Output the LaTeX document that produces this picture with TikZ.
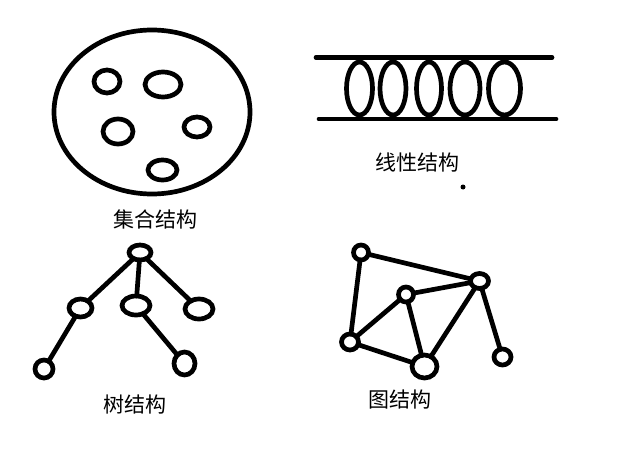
\documentclass[tikz,border=0pt]{standalone}
\usepackage{fontspec}
\newfontfamily\cjk{Noto Sans CJK SC}
\usetikzlibrary{shapes.geometric}
\begin{document}
\begin{tikzpicture}[x=1pt,y=-1pt,
  stroke/.style={line width=4.7pt},
  nd/.style={draw,stroke,ellipse,inner sep=0pt,outer sep=0pt},
  edge/.style={stroke,line cap=round},
  lbl/.style={font=\cjk\fontsize{21}{24}\selectfont,inner sep=0pt}]
\useasboundingbox[fill=white] (0,0) rectangle (628,452);
% set structure
\draw[stroke] (152,112) ellipse [x radius=98pt, y radius=82pt];
\draw[stroke] (107,81.5) ellipse [x radius=13pt, y radius=11.5pt];
\draw[stroke] (163,84.5) ellipse [x radius=18pt, y radius=12.5pt];
\draw[stroke] (118,131.5) ellipse [x radius=15pt, y radius=12.5pt];
\draw[stroke] (197,127) ellipse [x radius=13pt, y radius=10pt];
\draw[stroke] (162.5,170) ellipse [x radius=14.5pt, y radius=10pt];
\node[lbl] (t1) at (155,219) {集合结构};
% linear structure
\coordinate (l1a) at (316,57.5);
\coordinate (l1b) at (552,57.5);
\coordinate (l2a) at (319,119);
\coordinate (l2b) at (556,119);
\draw[edge] (l1a) -- (l1b);
\draw[edge] (l2a) -- (l2b);
\foreach \x/\r in {359.5/13, 393/13, 429/12.5, 465/15, 504.5/16}
  \draw[stroke] (\x,88.5) ellipse [x radius=\r pt, y radius=26.5pt];
\node[lbl] (t2) at (417,163) {线性结构};
\fill (463,187) circle [radius=2.5pt];
% tree
\node[nd,minimum width=22pt,minimum height=15pt] (r) at (140,252.5) {};
\node[nd,minimum width=23pt,minimum height=18pt] (c1) at (80.5,308) {};
\node[nd,minimum width=28pt,minimum height=19pt] (c2) at (136,305.5) {};
\node[nd,minimum width=28pt,minimum height=20pt] (c3) at (199,309) {};
\node[nd,minimum width=18pt,minimum height=18pt] (g1) at (44,369) {};
\node[nd,minimum width=21pt,minimum height=23pt] (g2) at (184.5,363.5) {};
\draw[edge] (r) -- (c1);
\draw[edge] (r) -- (c2);
\draw[edge] (r) -- (c3);
\draw[edge] (c1) -- (g1);
\draw[edge] (c2) -- (g2);
\node[lbl] (t3) at (135,405) {树结构};
% graph
\node[nd,minimum width=15pt,minimum height=15pt] (A) at (361,252.5) {};
\node[nd,minimum width=15pt,minimum height=15pt] (B) at (406,294.5) {};
\node[nd,minimum width=18pt,minimum height=15pt] (C) at (479.5,281) {};
\node[nd,minimum width=17pt,minimum height=16pt] (D) at (350,342) {};
\node[nd,minimum width=25pt,minimum height=23pt] (E) at (424.5,366.5) {};
\node[nd,minimum width=17pt,minimum height=16pt] (F) at (502.5,357) {};
\draw[edge] (A) -- (C);
\draw[edge] (A) -- (D);
\draw[edge] (B) -- (C);
\draw[edge] (B) -- (D);
\draw[edge] (B) -- (E);
\draw[edge] (D) -- (E);
\draw[edge] (C) -- (E);
\draw[edge] (C) -- (F);
\node[lbl] (t4) at (400,400) {图结构};
\end{tikzpicture}
\end{document}
